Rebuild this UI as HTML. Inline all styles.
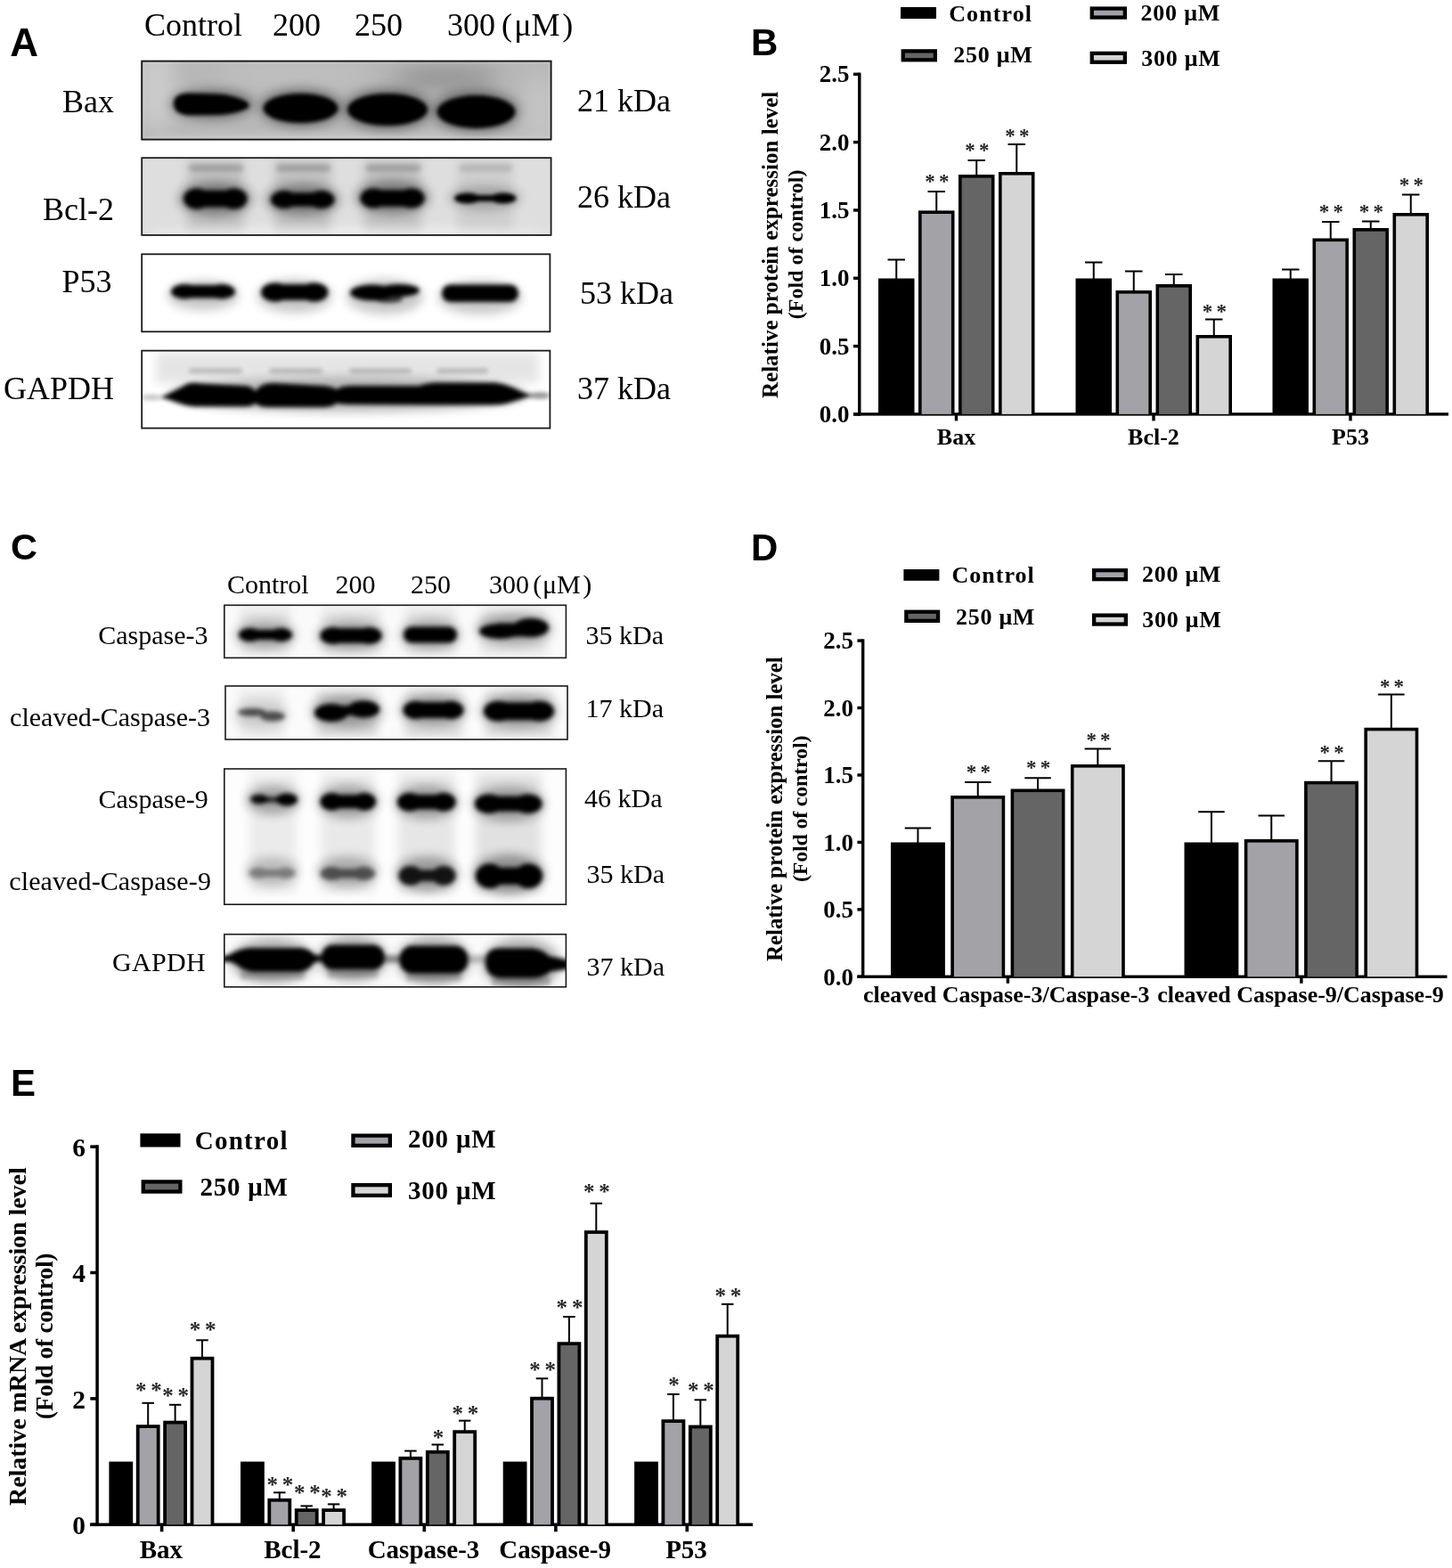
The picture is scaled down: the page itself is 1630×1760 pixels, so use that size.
<!DOCTYPE html>
<html lang="en">
<head>
<meta charset="utf-8">
<title>Figure</title>
<style>
html,body{margin:0;padding:0;background:#fff;}
body{width:1630px;height:1760px;overflow:hidden;}
svg{display:block;}
text{font-family:"Liberation Serif", "DejaVu Serif", serif;}
.s{font-family:"Liberation Serif", "DejaVu Serif", serif;font-weight:normal;}
.b{font-family:"Liberation Serif", "DejaVu Serif", serif;font-weight:bold;}
.p{font-family:"Liberation Sans", "DejaVu Sans", sans-serif;font-weight:bold;}
</style>
</head>
<body>
<svg width="1630" height="1760" viewBox="0 0 1630 1760">
<defs>
<filter id="b1" x="-30%" y="-80%" width="160%" height="260%"><feGaussianBlur stdDeviation="1.2"/></filter>
<filter id="b2" x="-30%" y="-80%" width="160%" height="260%"><feGaussianBlur stdDeviation="2.2"/></filter>
<filter id="b3" x="-30%" y="-80%" width="160%" height="260%"><feGaussianBlur stdDeviation="2.6"/></filter>
<filter id="b5" x="-30%" y="-100%" width="160%" height="300%"><feGaussianBlur stdDeviation="6"/></filter>
<filter id="b9" x="-40%" y="-100%" width="180%" height="300%"><feGaussianBlur stdDeviation="12"/></filter>
<filter id="tb" x="-5%" y="-20%" width="110%" height="140%"><feGaussianBlur stdDeviation="0.45"/></filter>
<clipPath id="cA1"><rect x="159.2" y="68.6" width="459.40000000000003" height="88.0"/></clipPath>
<clipPath id="cA2"><rect x="159.2" y="177.2" width="459.40000000000003" height="86.69999999999999"/></clipPath>
<clipPath id="cA3"><rect x="159.2" y="285.3" width="458.2" height="87.0"/></clipPath>
<clipPath id="cA4"><rect x="159.2" y="393.6" width="458.2" height="87.0"/></clipPath>
<clipPath id="cC1"><rect x="251.8" y="679.3" width="383.59999999999997" height="59.10000000000002"/></clipPath>
<clipPath id="cC2"><rect x="253" y="770" width="384" height="60"/></clipPath>
<clipPath id="cC3"><rect x="251.8" y="863" width="383.59999999999997" height="152.20000000000005"/></clipPath>
<clipPath id="cC4"><rect x="251.8" y="1048.7" width="383.59999999999997" height="59.09999999999991"/></clipPath>
</defs>
<rect width="1630" height="1760" fill="#fff"/>
<text class="p" x="11.2" y="62.6" font-size="44">A</text>
<text class="p" x="843" y="62" font-size="42">B</text>
<text class="p" x="12" y="628.4" font-size="41.5">C</text>
<text class="p" x="843" y="629" font-size="42">D</text>
<text class="p" x="12" y="1230" font-size="42">E</text>
<g filter="url(#tb)">
<text class="s" x="162" y="40.2" font-size="36">Control</text>
<text class="s" x="306" y="40.2" font-size="36">200</text>
<text class="s" x="398" y="40.2" font-size="36">250</text>
<text class="s" x="502" y="40.2" font-size="36">300</text>
<text class="s" x="563" y="40.2" font-size="36">(<tspan dx="2.2">μM</tspan><tspan dx="2.8">)</tspan></text>
<text class="s" x="128" y="125.6" font-size="36" text-anchor="end">Bax</text>
<text class="s" x="128" y="246.5" font-size="36" text-anchor="end">Bcl-2</text>
<text class="s" x="125.5" y="327.8" font-size="36" text-anchor="end">P53</text>
<text class="s" x="128" y="448" font-size="36" text-anchor="end">GAPDH</text>
<text class="s" x="648" y="125" font-size="36">21 kDa</text>
<text class="s" x="648" y="233" font-size="36">26 kDa</text>
<text class="s" x="651" y="341" font-size="36">53 kDa</text>
<text class="s" x="648" y="448" font-size="36">37 kDa</text>
</g>
<g clip-path="url(#cA1)">
<rect x="159.20" y="68.60" width="459.40" height="88.00" fill="#b7b7b7"/>
<ellipse cx="176.0" cy="100.0" rx="20.0" ry="50.0" fill="#fff" opacity="0.3" filter="url(#b9)"/>
<ellipse cx="606.0" cy="125.0" rx="16.0" ry="45.0" fill="#fff" opacity="0.22" filter="url(#b9)"/>
<ellipse cx="330.0" cy="84.0" rx="90.0" ry="12.0" fill="#fff" opacity="0.16" filter="url(#b9)"/>
<ellipse cx="500.0" cy="88.0" rx="60.0" ry="12.0" fill="#000" opacity="0.22" filter="url(#b9)"/>
<ellipse cx="390.0" cy="157.0" rx="230.0" ry="6.0" fill="#fff" opacity="0.3" filter="url(#b5)"/>
<ellipse cx="238.0" cy="117.0" rx="47.0" ry="17.0" fill="#000" opacity="0.36" filter="url(#b5)"/>
<ellipse cx="338.0" cy="121.0" rx="47.0" ry="22.0" fill="#000" opacity="0.36" filter="url(#b5)"/>
<ellipse cx="435.0" cy="123.0" rx="50.0" ry="24.0" fill="#000" opacity="0.36" filter="url(#b5)"/>
<ellipse cx="534.0" cy="125.0" rx="49.0" ry="24.0" fill="#000" opacity="0.36" filter="url(#b5)"/>
<g filter="url(#b2)"><path d="M195,116 Q195,105 212,104.5 L245,105.5 Q266,107 278,115 Q281,118.5 278,121.5 Q266,128 245,129 L212,129.5 Q195,128 195,116 Z"/></g>
<ellipse cx="337.5" cy="121.5" rx="42.0" ry="16.5" fill="#000" filter="url(#b2)"/>
<ellipse cx="435.0" cy="123.0" rx="45.0" ry="18.0" fill="#000" filter="url(#b2)"/>
<ellipse cx="534.5" cy="125.5" rx="44.0" ry="18.5" fill="#000" filter="url(#b2)"/>
</g><g>
<rect x="160.79999999999998" y="70.19999999999999" width="456.20000000000005" height="84.8" fill="none" stroke="#fff" stroke-opacity="0.35" stroke-width="1.2" filter="url(#b1)"/>
</g>
<rect x="159.2" y="68.6" width="459.40000000000003" height="88.0" fill="none" stroke="#151515" stroke-width="1.9"/>
<g clip-path="url(#cA2)">
<rect x="159.20" y="177.20" width="459.40" height="86.70" fill="#dedede"/>
<ellipse cx="390.0" cy="262.0" rx="230.0" ry="7.0" fill="#fff" opacity="0.5" filter="url(#b5)"/>
<rect x="210.0" y="180" width="63.5" height="78" fill="#000" opacity="0.12" filter="url(#b5)"/>
<ellipse cx="241.8" cy="223.0" rx="41.8" ry="19.5" fill="#000" opacity="0.35" filter="url(#b5)"/>
<rect x="212.0" y="184.0" width="61.5" height="9.0" rx="4.5" ry="4.5" fill="#000" opacity="0.16" filter="url(#b3)"/>
<rect x="308.0" y="180" width="63.5" height="78" fill="#000" opacity="0.12" filter="url(#b5)"/>
<ellipse cx="339.8" cy="224.0" rx="41.8" ry="18.0" fill="#000" opacity="0.35" filter="url(#b5)"/>
<rect x="310.0" y="184.0" width="61.5" height="9.0" rx="4.5" ry="4.5" fill="#000" opacity="0.16" filter="url(#b3)"/>
<rect x="408.5" y="180" width="64.1" height="78" fill="#000" opacity="0.12" filter="url(#b5)"/>
<ellipse cx="440.6" cy="221.2" rx="42.1" ry="19.2" fill="#000" opacity="0.35" filter="url(#b5)"/>
<rect x="410.5" y="184.0" width="62.1" height="9.0" rx="4.5" ry="4.5" fill="#000" opacity="0.16" filter="url(#b3)"/>
<rect x="513.6" y="180" width="61.8" height="78" fill="#000" opacity="0.07" filter="url(#b5)"/>
<ellipse cx="544.5" cy="222.0" rx="40.9" ry="13.0" fill="#000" opacity="0.22" filter="url(#b5)"/>
<rect x="515.6" y="184.0" width="59.8" height="9.0" rx="4.5" ry="4.5" fill="#000" opacity="0.1" filter="url(#b3)"/>
<g filter="url(#b3)">
<ellipse cx="221.0" cy="223.0" rx="15.0" ry="11.5"/>
<ellipse cx="262.5" cy="223.0" rx="15.0" ry="11.5"/>
<rect x="221.0" y="213.6" width="41.5" height="18.9"/>
</g>
<g filter="url(#b3)">
<ellipse cx="319.0" cy="224.0" rx="15.0" ry="10.0"/>
<ellipse cx="360.5" cy="224.0" rx="15.0" ry="10.0"/>
<rect x="319.0" y="216.2" width="41.5" height="15.6"/>
</g>
<g filter="url(#b3)">
<ellipse cx="419.6" cy="222.5" rx="15.1" ry="11.0"/>
<ellipse cx="461.5" cy="222.5" rx="15.1" ry="11.0"/>
<rect x="419.6" y="213.2" width="41.8" height="18.7"/>
</g>
<g filter="url(#b2)">
<ellipse cx="524.6" cy="222.5" rx="14.6" ry="6.0"/>
<ellipse cx="564.9" cy="222.5" rx="14.6" ry="6.0"/>
<rect x="524.6" y="219.0" width="40.3" height="7.0"/>
</g>
</g>
<rect x="159.2" y="177.2" width="459.40000000000003" height="86.69999999999999" fill="none" stroke="#1a1a1a" stroke-width="1.8"/>
<g clip-path="url(#cA3)">
<rect x="159.20" y="285.30" width="458.20" height="87.00" fill="#fff"/>
<ellipse cx="228.0" cy="331.5" rx="40.0" ry="16.5" fill="#000" opacity="0.22" filter="url(#b5)"/>
<ellipse cx="330.8" cy="332.2" rx="41.8" ry="18.8" fill="#000" opacity="0.22" filter="url(#b5)"/>
<ellipse cx="432.0" cy="333.0" rx="43.0" ry="19.5" fill="#000" opacity="0.22" filter="url(#b5)"/>
<ellipse cx="539.0" cy="333.8" rx="47.0" ry="18.8" fill="#000" opacity="0.22" filter="url(#b5)"/>
<g filter="url(#b3)">
<ellipse cx="207.1" cy="327.2" rx="15.1" ry="8.2"/>
<ellipse cx="248.9" cy="327.2" rx="15.1" ry="8.2"/>
<rect x="207.1" y="320.0" width="41.8" height="14.5"/>
</g>
<g filter="url(#b3)">
<ellipse cx="308.9" cy="328.0" rx="15.9" ry="10.5"/>
<ellipse cx="352.6" cy="328.0" rx="15.9" ry="10.5"/>
<rect x="308.9" y="319.1" width="43.8" height="17.8"/>
</g>
<g filter="url(#b3)"><ellipse cx="418" cy="328.5" rx="25" ry="9"/><ellipse cx="448" cy="326" rx="23" ry="7"/><ellipse cx="436" cy="335.5" rx="16" ry="4.5" opacity="0.7"/></g>
<rect x="496.0" y="319.5" width="86.0" height="19.5" rx="9.8" ry="9.8" fill="#000" filter="url(#b3)"/>
</g>
<rect x="159.2" y="285.3" width="458.2" height="87.0" fill="none" stroke="#1a1a1a" stroke-width="1.8"/>
<g clip-path="url(#cA4)">
<rect x="159.20" y="393.60" width="458.20" height="87.00" fill="#fff"/>
<rect x="175" y="396" width="430" height="34" fill="#000" opacity="0.10" filter="url(#b5)"/>
<rect x="212.0" y="413.5" width="60.0" height="5.5" rx="2.8" ry="2.8" fill="#000" opacity="0.2" filter="url(#b3)"/>
<rect x="302.0" y="413.5" width="60.0" height="5.5" rx="2.8" ry="2.8" fill="#000" opacity="0.2" filter="url(#b3)"/>
<rect x="392.0" y="413.5" width="70.0" height="5.5" rx="2.8" ry="2.8" fill="#000" opacity="0.2" filter="url(#b3)"/>
<rect x="490.0" y="413.5" width="58.0" height="5.5" rx="2.8" ry="2.8" fill="#000" opacity="0.2" filter="url(#b3)"/>
<ellipse cx="390.0" cy="443.0" rx="200.0" ry="19.0" fill="#000" opacity="0.28" filter="url(#b5)"/>
<g filter="url(#b3)">
<path d="M180,446 Q198,438 210,431 Q216,429 226,430.5 L276,433 Q284,434 287,439.5 Q290,433 298,431 Q306,429.5 316,430.5 L364,433 Q374,434 378,437 Q382,433.5 392,433 L470,433 Q478,430 488,429.5 L556,429.5 Q566,430.5 576,435 Q588,441 598,444 Q585,448 572,452 Q564,454.5 552,454.5 L480,454.5 L392,454 Q382,453.5 378,452.5 Q374,456.5 364,457 L300,457 Q290,456.5 287,452.5 Q284,456 274,456.3 L218,456.3 Q208,455.5 198,451.5 Q190,448.5 180,446 Z"/>
</g>
<ellipse cx="606.0" cy="444.0" rx="12.0" ry="3.5" fill="#000" opacity="0.45" filter="url(#b3)"/>
<ellipse cx="170.0" cy="446.0" rx="12.0" ry="3.0" fill="#000" opacity="0.25" filter="url(#b3)"/>
</g>
<rect x="159.2" y="393.6" width="458.2" height="87.0" fill="none" stroke="#1a1a1a" stroke-width="1.8"/>
<g filter="url(#tb)">
<rect x="1011.00" y="8.00" width="40.00" height="13.00" fill="#000"/>
<text class="b" x="1065.2" y="23.5" font-size="26" letter-spacing="1.102">Control</text>
<rect x="1223.60" y="7.40" width="41.40" height="14.30" fill="#000"/>
<rect x="1227.90" y="11.70" width="32.80" height="5.70" fill="#a2a2a7"/>
<text class="b" x="1280.6" y="22.6" font-size="26" letter-spacing="0.764">200 μM</text>
<rect x="1011.60" y="55.20" width="40.40" height="14.20" fill="#000"/>
<rect x="1015.90" y="59.50" width="31.80" height="5.60" fill="#656565"/>
<text class="b" x="1070.3" y="70.2" font-size="26" letter-spacing="0.764">250 μM</text>
<rect x="1223.60" y="57.70" width="41.40" height="14.20" fill="#000"/>
<rect x="1227.90" y="62.00" width="32.80" height="5.60" fill="#d5d5d5"/>
<text class="b" x="1281.2" y="74.1" font-size="26" letter-spacing="0.764">300 μM</text>
<rect x="963.10" y="81.60" width="3.40" height="385.00" fill="#000"/>
<rect x="958.00" y="463.20" width="668.00" height="3.40" fill="#000"/>
<rect x="958.00" y="463.20" width="6.80" height="3.40" fill="#000"/>
<text class="b" x="953.6" y="474.0" font-size="27" text-anchor="end">0.0</text>
<rect x="958.00" y="386.88" width="6.80" height="3.40" fill="#000"/>
<text class="b" x="953.6" y="397.7" font-size="27" text-anchor="end">0.5</text>
<rect x="958.00" y="310.56" width="6.80" height="3.40" fill="#000"/>
<text class="b" x="953.6" y="321.4" font-size="27" text-anchor="end">1.0</text>
<rect x="958.00" y="234.24" width="6.80" height="3.40" fill="#000"/>
<text class="b" x="953.6" y="245.0" font-size="27" text-anchor="end">1.5</text>
<rect x="958.00" y="157.92" width="6.80" height="3.40" fill="#000"/>
<text class="b" x="953.6" y="168.7" font-size="27" text-anchor="end">2.0</text>
<rect x="958.00" y="81.60" width="6.80" height="3.40" fill="#000"/>
<text class="b" x="953.6" y="92.4" font-size="27" text-anchor="end">2.5</text>
<text class="b" font-size="25" text-anchor="middle" letter-spacing="0.004" transform="translate(873 274.85) rotate(-90)">Relative protein expression level</text>
<text class="b" font-size="24" text-anchor="middle" letter-spacing="0.01" transform="translate(900.6 274.35) rotate(-90)">(Fold of control)</text>
<line x1="1006.25" y1="291.50" x2="1006.25" y2="313.50" stroke="#000" stroke-width="2"/>
<line x1="996.50" y1="291.50" x2="1016.00" y2="291.50" stroke="#000" stroke-width="2"/>
<rect x="986.00" y="312.50" width="40.50" height="152.40" fill="#000"/>
<line x1="1051.25" y1="215.00" x2="1051.25" y2="237.40" stroke="#000" stroke-width="2"/>
<line x1="1041.50" y1="215.00" x2="1061.00" y2="215.00" stroke="#000" stroke-width="2"/>
<rect x="1031.00" y="236.40" width="40.50" height="228.50" fill="#000"/>
<rect x="1034.60" y="240.00" width="33.30" height="224.90" fill="#a2a2a7"/>
<text class="b" x="1044.05" y="211.2" font-size="23" text-anchor="middle" fill="#262626">*</text>
<text class="b" x="1059.65" y="211.2" font-size="23" text-anchor="middle" fill="#262626">*</text>
<line x1="1096.25" y1="180.00" x2="1096.25" y2="197.00" stroke="#000" stroke-width="2"/>
<line x1="1086.50" y1="180.00" x2="1106.00" y2="180.00" stroke="#000" stroke-width="2"/>
<rect x="1076.00" y="196.00" width="40.50" height="268.90" fill="#000"/>
<rect x="1079.60" y="199.60" width="33.30" height="265.30" fill="#656565"/>
<text class="b" x="1089.05" y="175.6" font-size="23" text-anchor="middle" fill="#262626">*</text>
<text class="b" x="1104.65" y="175.6" font-size="23" text-anchor="middle" fill="#262626">*</text>
<line x1="1141.25" y1="162.00" x2="1141.25" y2="194.00" stroke="#000" stroke-width="2"/>
<line x1="1131.50" y1="162.00" x2="1151.00" y2="162.00" stroke="#000" stroke-width="2"/>
<rect x="1121.00" y="193.00" width="40.50" height="271.90" fill="#000"/>
<rect x="1124.60" y="196.60" width="33.30" height="268.30" fill="#d5d5d5"/>
<text class="b" x="1134.05" y="159.8" font-size="23" text-anchor="middle" fill="#262626">*</text>
<text class="b" x="1149.65" y="159.8" font-size="23" text-anchor="middle" fill="#262626">*</text>
<rect x="1071.80" y="464.90" width="3.40" height="7.50" fill="#000"/>
<text class="b" x="1073.5" y="499" font-size="26" text-anchor="middle">Bax</text>
<line x1="1227.75" y1="294.50" x2="1227.75" y2="313.50" stroke="#000" stroke-width="2"/>
<line x1="1218.00" y1="294.50" x2="1237.50" y2="294.50" stroke="#000" stroke-width="2"/>
<rect x="1207.50" y="312.50" width="40.50" height="152.40" fill="#000"/>
<line x1="1272.75" y1="304.50" x2="1272.75" y2="327.00" stroke="#000" stroke-width="2"/>
<line x1="1263.00" y1="304.50" x2="1282.50" y2="304.50" stroke="#000" stroke-width="2"/>
<rect x="1252.50" y="326.00" width="40.50" height="138.90" fill="#000"/>
<rect x="1256.10" y="329.60" width="33.30" height="135.30" fill="#a2a2a7"/>
<line x1="1317.75" y1="308.00" x2="1317.75" y2="320.00" stroke="#000" stroke-width="2"/>
<line x1="1308.00" y1="308.00" x2="1327.50" y2="308.00" stroke="#000" stroke-width="2"/>
<rect x="1297.50" y="319.00" width="40.50" height="145.90" fill="#000"/>
<rect x="1301.10" y="322.60" width="33.30" height="142.30" fill="#656565"/>
<line x1="1362.75" y1="358.50" x2="1362.75" y2="377.00" stroke="#000" stroke-width="2"/>
<line x1="1353.00" y1="358.50" x2="1372.50" y2="358.50" stroke="#000" stroke-width="2"/>
<rect x="1342.50" y="376.00" width="40.50" height="88.90" fill="#000"/>
<rect x="1346.10" y="379.60" width="33.30" height="85.30" fill="#d5d5d5"/>
<text class="b" x="1355.55" y="356.7" font-size="23" text-anchor="middle" fill="#262626">*</text>
<text class="b" x="1371.15" y="356.7" font-size="23" text-anchor="middle" fill="#262626">*</text>
<rect x="1293.30" y="464.90" width="3.40" height="7.50" fill="#000"/>
<text class="b" x="1295.0" y="499" font-size="26" text-anchor="middle">Bcl-2</text>
<line x1="1448.75" y1="302.50" x2="1448.75" y2="313.50" stroke="#000" stroke-width="2"/>
<line x1="1439.00" y1="302.50" x2="1458.50" y2="302.50" stroke="#000" stroke-width="2"/>
<rect x="1428.50" y="312.50" width="40.50" height="152.40" fill="#000"/>
<line x1="1493.75" y1="249.00" x2="1493.75" y2="268.50" stroke="#000" stroke-width="2"/>
<line x1="1484.00" y1="249.00" x2="1503.50" y2="249.00" stroke="#000" stroke-width="2"/>
<rect x="1473.50" y="267.50" width="40.50" height="197.40" fill="#000"/>
<rect x="1477.10" y="271.10" width="33.30" height="193.80" fill="#a2a2a7"/>
<text class="b" x="1486.55" y="245.2" font-size="23" text-anchor="middle" fill="#262626">*</text>
<text class="b" x="1502.15" y="245.2" font-size="23" text-anchor="middle" fill="#262626">*</text>
<line x1="1538.75" y1="248.50" x2="1538.75" y2="257.00" stroke="#000" stroke-width="2"/>
<line x1="1529.00" y1="248.50" x2="1548.50" y2="248.50" stroke="#000" stroke-width="2"/>
<rect x="1518.50" y="256.00" width="40.50" height="208.90" fill="#000"/>
<rect x="1522.10" y="259.60" width="33.30" height="205.30" fill="#656565"/>
<text class="b" x="1531.55" y="245.2" font-size="23" text-anchor="middle" fill="#262626">*</text>
<text class="b" x="1547.15" y="245.2" font-size="23" text-anchor="middle" fill="#262626">*</text>
<line x1="1583.75" y1="218.50" x2="1583.75" y2="240.00" stroke="#000" stroke-width="2"/>
<line x1="1574.00" y1="218.50" x2="1593.50" y2="218.50" stroke="#000" stroke-width="2"/>
<rect x="1563.50" y="239.00" width="40.50" height="225.90" fill="#000"/>
<rect x="1567.10" y="242.60" width="33.30" height="222.30" fill="#d5d5d5"/>
<text class="b" x="1576.55" y="215.2" font-size="23" text-anchor="middle" fill="#262626">*</text>
<text class="b" x="1592.15" y="215.2" font-size="23" text-anchor="middle" fill="#262626">*</text>
<rect x="1514.30" y="464.90" width="3.40" height="7.50" fill="#000"/>
<text class="b" x="1516.0" y="499" font-size="26" text-anchor="middle">P53</text>
</g>
<g filter="url(#tb)">
<text class="s" x="255" y="665.8" font-size="30">Control</text>
<text class="s" x="376.5" y="665.8" font-size="30">200</text>
<text class="s" x="461" y="665.8" font-size="30">250</text>
<text class="s" x="549" y="665.8" font-size="30">300</text>
<text class="s" x="598.3" y="665.8" font-size="30">(<tspan dx="0.6">μM</tspan><tspan dx="2.6">)</tspan></text>
<text class="s" x="233.5" y="723" font-size="30" text-anchor="end">Caspase-3</text>
<text class="s" x="236" y="815.4" font-size="30" text-anchor="end">cleaved-Caspase-3</text>
<text class="s" x="233.8" y="906.6" font-size="30" text-anchor="end">Caspase-9</text>
<text class="s" x="10.3" y="998.5" font-size="30" letter-spacing="0.107">cleaved-Caspase-9</text>
<text class="s" x="126" y="1090" font-size="30" letter-spacing="0.314">GAPDH</text>
<text class="s" x="657.5" y="722.6" font-size="30">35 kDa</text>
<text class="s" x="657.6" y="805.2" font-size="30">17 kDa</text>
<text class="s" x="656" y="906.3" font-size="30">46 kDa</text>
<text class="s" x="658.5" y="991" font-size="30">35 kDa</text>
<text class="s" x="658.6" y="1094.5" font-size="30">37 kDa</text>
</g>
<g clip-path="url(#cC1)">
<rect x="251.80" y="679.30" width="383.60" height="59.10" fill="#fafafa"/>
<rect x="270.0" y="684" width="56.0" height="50" fill="#000" opacity="0.10" filter="url(#b5)"/>
<ellipse cx="298.0" cy="712.5" rx="34.0" ry="14.5" fill="#000" opacity="0.28" filter="url(#b5)"/>
<rect x="361.5" y="684" width="65.1" height="50" fill="#000" opacity="0.10" filter="url(#b5)"/>
<ellipse cx="394.1" cy="713.5" rx="38.6" ry="16.5" fill="#000" opacity="0.28" filter="url(#b5)"/>
<rect x="455.0" y="684" width="56.0" height="50" fill="#000" opacity="0.10" filter="url(#b5)"/>
<ellipse cx="483.0" cy="712.5" rx="34.0" ry="16.0" fill="#000" opacity="0.28" filter="url(#b5)"/>
<rect x="540.0" y="684" width="74.0" height="50" fill="#000" opacity="0.10" filter="url(#b5)"/>
<ellipse cx="577.0" cy="706.0" rx="43.0" ry="17.0" fill="#000" opacity="0.28" filter="url(#b5)"/>
<g filter="url(#b3)">
<ellipse cx="280.6" cy="712.5" rx="12.6" ry="7.5"/>
<ellipse cx="315.4" cy="712.5" rx="12.6" ry="7.5"/>
<rect x="280.6" y="706.9" width="34.8" height="11.2"/>
</g>
<g filter="url(#b3)">
<ellipse cx="374.0" cy="713.5" rx="14.5" ry="9.5"/>
<ellipse cx="414.1" cy="713.5" rx="14.5" ry="9.5"/>
<rect x="374.0" y="705.1" width="40.1" height="16.7"/>
</g>
<rect x="453.0" y="703.5" width="60.0" height="18.0" rx="9.0" ry="9.0" fill="#000" filter="url(#b3)"/>
<g filter="url(#b3)"><ellipse cx="596" cy="704.5" rx="20" ry="10.5"/><ellipse cx="561" cy="708.5" rx="23" ry="8.5"/><rect x="558" y="699.5" width="40" height="15"/></g>
</g>
<rect x="251.8" y="679.3" width="383.59999999999997" height="59.10000000000002" fill="none" stroke="#1a1a1a" stroke-width="1.6"/>
<g clip-path="url(#cC2)">
<rect x="253.00" y="770.00" width="384.00" height="60.00" fill="#fbfbfb"/>
<rect x="268.0" y="775" width="51.0" height="52" fill="#000" opacity="0.08" filter="url(#b5)"/>
<ellipse cx="293.5" cy="802.0" rx="31.5" ry="14.0" fill="#000" opacity="0.12" filter="url(#b5)"/>
<rect x="355.0" y="775" width="69.0" height="52" fill="#000" opacity="0.14" filter="url(#b5)"/>
<ellipse cx="389.5" cy="798.8" rx="40.5" ry="17.8" fill="#000" opacity="0.28" filter="url(#b5)"/>
<rect x="454.5" y="775" width="63.9" height="52" fill="#000" opacity="0.14" filter="url(#b5)"/>
<ellipse cx="486.4" cy="797.0" rx="37.9" ry="17.0" fill="#000" opacity="0.28" filter="url(#b5)"/>
<rect x="545.0" y="775" width="75.0" height="52" fill="#000" opacity="0.14" filter="url(#b5)"/>
<ellipse cx="582.5" cy="798.3" rx="43.5" ry="18.3" fill="#000" opacity="0.28" filter="url(#b5)"/>
<g filter="url(#b3)" opacity="0.62"><ellipse cx="283" cy="799.5" rx="16" ry="4.5"/><ellipse cx="306" cy="804" rx="14" ry="5.5"/></g>
<g filter="url(#b3)"><ellipse cx="372" cy="800" rx="19" ry="10"/><ellipse cx="408" cy="796" rx="18" ry="9.5"/><rect x="372" y="792" width="36" height="11"/></g>
<g filter="url(#b3)">
<ellipse cx="466.8" cy="797.0" rx="14.3" ry="10.0"/>
<ellipse cx="506.1" cy="797.0" rx="14.3" ry="10.0"/>
<rect x="466.8" y="788.0" width="39.4" height="18.0"/>
</g>
<g filter="url(#b3)">
<ellipse cx="559.6" cy="798.3" rx="16.6" ry="11.3"/>
<ellipse cx="605.4" cy="798.3" rx="16.6" ry="11.3"/>
<rect x="559.6" y="788.4" width="45.8" height="19.9"/>
</g>
</g>
<rect x="253" y="770" width="384" height="60" fill="none" stroke="#1a1a1a" stroke-width="1.6"/>
<g clip-path="url(#cC3)">
<rect x="251.80" y="863.00" width="383.60" height="152.20" fill="#fdfdfd"/>
<rect x="280.0" y="868" width="53.0" height="134" fill="#000" opacity="0.07" filter="url(#b5)"/>
<ellipse cx="306.5" cy="898.0" rx="30.5" ry="16.0" fill="#000" opacity="0.3" filter="url(#b5)"/>
<rect x="360.5" y="868" width="60.5" height="134" fill="#000" opacity="0.08" filter="url(#b5)"/>
<ellipse cx="390.8" cy="899.8" rx="34.2" ry="18.8" fill="#000" opacity="0.3" filter="url(#b5)"/>
<rect x="447.0" y="868" width="63.6" height="134" fill="#000" opacity="0.09" filter="url(#b5)"/>
<ellipse cx="478.8" cy="900.2" rx="35.8" ry="19.2" fill="#000" opacity="0.3" filter="url(#b5)"/>
<rect x="534.0" y="868" width="73.5" height="134" fill="#000" opacity="0.11" filter="url(#b5)"/>
<ellipse cx="570.8" cy="902.2" rx="40.8" ry="19.8" fill="#000" opacity="0.3" filter="url(#b5)"/>
<ellipse cx="305.5" cy="978.0" rx="29.5" ry="16.0" fill="#000" opacity="0.2" filter="url(#b5)"/>
<ellipse cx="390.2" cy="978.5" rx="33.8" ry="17.5" fill="#000" opacity="0.26" filter="url(#b5)"/>
<ellipse cx="479.6" cy="981.0" rx="35.1" ry="20.0" fill="#000" opacity="0.32" filter="url(#b5)"/>
<ellipse cx="571.2" cy="981.5" rx="40.2" ry="22.5" fill="#000" opacity="0.36" filter="url(#b5)"/>
<g filter="url(#b3)"><ellipse cx="291" cy="897" rx="10" ry="5.5" opacity="0.9"/><ellipse cx="322" cy="897.5" rx="12" ry="7"/><rect x="290" y="894" width="32" height="7" opacity="0.7"/></g>
<g filter="url(#b3)">
<ellipse cx="372.6" cy="899.8" rx="13.1" ry="9.8"/>
<ellipse cx="408.9" cy="899.8" rx="13.1" ry="9.8"/>
<rect x="372.6" y="892.1" width="36.2" height="15.2"/>
</g>
<g filter="url(#b3)">
<ellipse cx="459.8" cy="900.2" rx="13.8" ry="10.2"/>
<ellipse cx="497.8" cy="900.2" rx="13.8" ry="10.2"/>
<rect x="459.8" y="892.0" width="38.0" height="16.4"/>
</g>
<g filter="url(#b3)">
<ellipse cx="548.9" cy="902.2" rx="15.9" ry="10.8"/>
<ellipse cx="592.6" cy="902.2" rx="15.9" ry="10.8"/>
<rect x="548.9" y="893.6" width="43.8" height="17.2"/>
</g>
<g filter="url(#b3)" opacity="0.34">
<ellipse cx="290.1" cy="980.0" rx="11.1" ry="6.0"/>
<ellipse cx="320.9" cy="980.0" rx="11.1" ry="6.0"/>
<rect x="290.1" y="975.8" width="30.7" height="8.4"/>
</g>
<g filter="url(#b3)" opacity="0.55">
<ellipse cx="372.4" cy="980.5" rx="12.9" ry="7.5"/>
<ellipse cx="408.1" cy="980.5" rx="12.9" ry="7.5"/>
<rect x="372.4" y="975.2" width="35.7" height="10.5"/>
</g>
<g filter="url(#b3)" opacity="0.88">
<ellipse cx="461.0" cy="982.8" rx="13.5" ry="10.8"/>
<ellipse cx="498.1" cy="982.8" rx="13.5" ry="10.8"/>
<rect x="461.0" y="976.3" width="37.2" height="12.9"/>
</g>
<g filter="url(#b3)">
<ellipse cx="549.8" cy="983.2" rx="15.8" ry="13.8"/>
<ellipse cx="593.2" cy="983.2" rx="15.8" ry="13.8"/>
<rect x="549.8" y="973.6" width="43.5" height="19.2"/>
</g>
</g>
<rect x="251.8" y="863" width="383.59999999999997" height="152.20000000000005" fill="none" stroke="#1a1a1a" stroke-width="1.6"/>
<g clip-path="url(#cC4)">
<rect x="251.80" y="1048.70" width="383.60" height="59.10" fill="#fbfbfb"/>
<ellipse cx="306.0" cy="1078.5" rx="47.0" ry="25.5" fill="#000" opacity="0.3" filter="url(#b5)"/>
<rect x="270.0" y="1089.0" width="72.0" height="10" fill="#000" opacity="0.22" filter="url(#b3)"/>
<ellipse cx="396.0" cy="1076.0" rx="39.0" ry="26.0" fill="#000" opacity="0.3" filter="url(#b5)"/>
<rect x="368.0" y="1087.0" width="56.0" height="10" fill="#000" opacity="0.22" filter="url(#b3)"/>
<ellipse cx="487.0" cy="1078.5" rx="42.0" ry="27.5" fill="#000" opacity="0.3" filter="url(#b5)"/>
<rect x="456.0" y="1091.0" width="62.0" height="10" fill="#000" opacity="0.22" filter="url(#b3)"/>
<ellipse cx="585.0" cy="1082.0" rx="44.0" ry="29.0" fill="#000" opacity="0.3" filter="url(#b5)"/>
<rect x="552.0" y="1096.0" width="66.0" height="10" fill="#000" opacity="0.22" filter="url(#b3)"/>
<g filter="url(#b3)">
<path d="M248,1074 L258,1071.5 Q266,1065.5 280,1064 L338,1064 Q348,1065.5 353,1071.5 L358,1075.5 L353,1080.5 Q346,1089.5 336,1091 L284,1091 Q272,1089.5 266,1083 L258,1079.5 L248,1080 Z"/>
<rect x="361" y="1060.5" width="70.5" height="28" rx="13"/>
<rect x="448.7" y="1061.5" width="76.5" height="31.5" rx="14.5"/>
<path d="M545,1080 Q545,1065 560,1064.3 L598,1064.3 Q610,1066 616,1073 L640,1078 L640,1087.5 L618,1090.5 Q610,1098 598,1098 L562,1098 Q545,1096.5 545,1080 Z"/>
<rect x="352" y="1071.5" width="11" height="8.5" opacity="0.85"/>
<rect x="430" y="1072" width="20" height="9" opacity="0.4"/>
<rect x="524" y="1072" width="22" height="9" opacity="0.22"/>
</g>
</g>
<rect x="251.8" y="1048.7" width="383.59999999999997" height="59.09999999999991" fill="none" stroke="#1a1a1a" stroke-width="1.6"/>
<g filter="url(#tb)">
<rect x="1014.40" y="639.00" width="40.00" height="12.80" fill="#000"/>
<text class="b" x="1068.5" y="653.5" font-size="26" letter-spacing="1.019">Control</text>
<rect x="1226.00" y="638.00" width="40.00" height="14.30" fill="#000"/>
<rect x="1230.30" y="642.30" width="31.40" height="5.70" fill="#a2a2a7"/>
<text class="b" x="1282" y="653" font-size="26" letter-spacing="0.724">200 μM</text>
<rect x="1015.20" y="684.60" width="40.00" height="14.40" fill="#000"/>
<rect x="1019.50" y="688.90" width="31.40" height="5.80" fill="#656565"/>
<text class="b" x="1073" y="700.6" font-size="26" letter-spacing="0.724">250 μM</text>
<rect x="1226.00" y="688.50" width="40.00" height="14.20" fill="#000"/>
<rect x="1230.30" y="692.80" width="31.40" height="5.60" fill="#d5d5d5"/>
<text class="b" x="1282.3" y="704" font-size="26" letter-spacing="0.724">300 μM</text>
<rect x="967.00" y="717.40" width="3.40" height="380.60" fill="#000"/>
<rect x="962.40" y="1094.60" width="662.10" height="3.40" fill="#000"/>
<rect x="962.40" y="1094.60" width="6.30" height="3.40" fill="#000"/>
<text class="b" x="958.0" y="1105.5" font-size="27" text-anchor="end">0.0</text>
<rect x="962.40" y="1019.16" width="6.30" height="3.40" fill="#000"/>
<text class="b" x="958.0" y="1030.1" font-size="27" text-anchor="end">0.5</text>
<rect x="962.40" y="943.72" width="6.30" height="3.40" fill="#000"/>
<text class="b" x="958.0" y="954.6" font-size="27" text-anchor="end">1.0</text>
<rect x="962.40" y="868.28" width="6.30" height="3.40" fill="#000"/>
<text class="b" x="958.0" y="879.2" font-size="27" text-anchor="end">1.5</text>
<rect x="962.40" y="792.84" width="6.30" height="3.40" fill="#000"/>
<text class="b" x="958.0" y="803.7" font-size="27" text-anchor="end">2.0</text>
<rect x="962.40" y="717.40" width="6.30" height="3.40" fill="#000"/>
<text class="b" x="958.0" y="728.3" font-size="27" text-anchor="end">2.5</text>
<text class="b" font-size="25" text-anchor="middle" letter-spacing="-0.08" transform="translate(877.5 908.14) rotate(-90)">Relative protein expression level</text>
<text class="b" font-size="24" text-anchor="middle" letter-spacing="-0.19" transform="translate(906 907.95) rotate(-90)">(Fold of control)</text>
<line x1="1030.45" y1="929.50" x2="1030.45" y2="946.50" stroke="#000" stroke-width="2"/>
<line x1="1015.70" y1="929.50" x2="1045.20" y2="929.50" stroke="#000" stroke-width="2"/>
<rect x="1000.00" y="945.50" width="60.90" height="150.80" fill="#000"/>
<line x1="1097.75" y1="878.00" x2="1097.75" y2="894.00" stroke="#000" stroke-width="2"/>
<line x1="1083.00" y1="878.00" x2="1112.50" y2="878.00" stroke="#000" stroke-width="2"/>
<rect x="1067.30" y="893.00" width="60.90" height="203.30" fill="#000"/>
<rect x="1070.90" y="896.60" width="53.70" height="199.70" fill="#a2a2a7"/>
<text class="b" x="1090.55" y="874.0" font-size="23" text-anchor="middle" fill="#262626">*</text>
<text class="b" x="1106.15" y="874.0" font-size="23" text-anchor="middle" fill="#262626">*</text>
<line x1="1165.05" y1="873.25" x2="1165.05" y2="886.50" stroke="#000" stroke-width="2"/>
<line x1="1150.30" y1="873.25" x2="1179.80" y2="873.25" stroke="#000" stroke-width="2"/>
<rect x="1134.60" y="885.50" width="60.90" height="210.80" fill="#000"/>
<rect x="1138.20" y="889.10" width="53.70" height="207.20" fill="#656565"/>
<text class="b" x="1157.85" y="868.5" font-size="23" text-anchor="middle" fill="#262626">*</text>
<text class="b" x="1173.45" y="868.5" font-size="23" text-anchor="middle" fill="#262626">*</text>
<line x1="1232.35" y1="840.50" x2="1232.35" y2="859.00" stroke="#000" stroke-width="2"/>
<line x1="1217.60" y1="840.50" x2="1247.10" y2="840.50" stroke="#000" stroke-width="2"/>
<rect x="1201.90" y="858.00" width="60.90" height="238.30" fill="#000"/>
<rect x="1205.50" y="861.60" width="53.70" height="234.70" fill="#d5d5d5"/>
<text class="b" x="1225.15" y="838.2" font-size="23" text-anchor="middle" fill="#262626">*</text>
<text class="b" x="1240.75" y="838.2" font-size="23" text-anchor="middle" fill="#262626">*</text>
<rect x="1129.70" y="1096.30" width="3.40" height="7.50" fill="#000"/>
<text class="b" x="968.9" y="1125.4" font-size="26" letter-spacing="0.005">cleaved Caspase-3/Caspase-3</text>
<line x1="1359.95" y1="911.25" x2="1359.95" y2="946.50" stroke="#000" stroke-width="2"/>
<line x1="1345.20" y1="911.25" x2="1374.70" y2="911.25" stroke="#000" stroke-width="2"/>
<rect x="1329.50" y="945.50" width="60.90" height="150.80" fill="#000"/>
<line x1="1427.25" y1="915.50" x2="1427.25" y2="943.00" stroke="#000" stroke-width="2"/>
<line x1="1412.50" y1="915.50" x2="1442.00" y2="915.50" stroke="#000" stroke-width="2"/>
<rect x="1396.80" y="942.00" width="60.90" height="154.30" fill="#000"/>
<rect x="1400.40" y="945.60" width="53.70" height="150.70" fill="#a2a2a7"/>
<line x1="1494.55" y1="854.25" x2="1494.55" y2="877.75" stroke="#000" stroke-width="2"/>
<line x1="1479.80" y1="854.25" x2="1509.30" y2="854.25" stroke="#000" stroke-width="2"/>
<rect x="1464.10" y="876.75" width="60.90" height="219.55" fill="#000"/>
<rect x="1467.70" y="880.35" width="53.70" height="215.95" fill="#656565"/>
<text class="b" x="1487.35" y="852.2" font-size="23" text-anchor="middle" fill="#262626">*</text>
<text class="b" x="1502.95" y="852.2" font-size="23" text-anchor="middle" fill="#262626">*</text>
<line x1="1561.85" y1="779.50" x2="1561.85" y2="817.75" stroke="#000" stroke-width="2"/>
<line x1="1547.10" y1="779.50" x2="1576.60" y2="779.50" stroke="#000" stroke-width="2"/>
<rect x="1531.40" y="816.75" width="60.90" height="279.55" fill="#000"/>
<rect x="1535.00" y="820.35" width="53.70" height="275.95" fill="#d5d5d5"/>
<text class="b" x="1554.65" y="778.2" font-size="23" text-anchor="middle" fill="#262626">*</text>
<text class="b" x="1570.25" y="778.2" font-size="23" text-anchor="middle" fill="#262626">*</text>
<rect x="1459.20" y="1096.30" width="3.40" height="7.50" fill="#000"/>
<text class="b" x="1299.3" y="1125.4" font-size="26" letter-spacing="0.005">cleaved Caspase-9/Caspase-9</text>
</g>
<g filter="url(#tb)">
<rect x="157.40" y="1272.30" width="45.10" height="15.20" fill="#000"/>
<text class="b" x="218.75" y="1289.8" font-size="29" letter-spacing="1.261">Control</text>
<rect x="394.30" y="1272.50" width="45.70" height="15.50" fill="#000"/>
<rect x="398.60" y="1276.80" width="37.10" height="6.90" fill="#a2a2a7"/>
<text class="b" x="458" y="1288" font-size="29" letter-spacing="0.788">200 μM</text>
<rect x="158.60" y="1324.30" width="45.90" height="15.40" fill="#000"/>
<rect x="162.90" y="1328.60" width="37.30" height="6.80" fill="#656565"/>
<text class="b" x="224.4" y="1342.4" font-size="29" letter-spacing="0.788">250 μM</text>
<rect x="394.30" y="1328.00" width="45.70" height="16.00" fill="#000"/>
<rect x="398.60" y="1332.30" width="37.10" height="7.40" fill="#d5d5d5"/>
<text class="b" x="458" y="1345.8" font-size="29" letter-spacing="0.788">300 μM</text>
<rect x="107.35" y="1285.25" width="3.50" height="427.80" fill="#000"/>
<rect x="101.30" y="1709.55" width="743.70" height="3.50" fill="#000"/>
<rect x="101.30" y="1709.55" width="7.80" height="3.50" fill="#000"/>
<text class="b" x="95.89999999999999" y="1721.9" font-size="29.5" text-anchor="end">0</text>
<rect x="101.30" y="1568.15" width="7.80" height="3.50" fill="#000"/>
<text class="b" x="95.89999999999999" y="1580.5" font-size="29.5" text-anchor="end">2</text>
<rect x="101.30" y="1426.75" width="7.80" height="3.50" fill="#000"/>
<text class="b" x="95.89999999999999" y="1439.1" font-size="29.5" text-anchor="end">4</text>
<rect x="101.30" y="1285.35" width="7.80" height="3.50" fill="#000"/>
<text class="b" x="95.89999999999999" y="1297.7" font-size="29.5" text-anchor="end">6</text>
<text class="b" font-size="28" text-anchor="middle" letter-spacing="-0.055" transform="translate(28.7 1500.18) rotate(-90)">Relative mRNA expression level</text>
<text class="b" font-size="27" text-anchor="middle" letter-spacing="-0.13" transform="translate(59.3 1499.77) rotate(-90)">(Fold of control)</text>
<rect x="122.40" y="1640.60" width="26.80" height="70.70" fill="#000"/>
<line x1="166.20" y1="1574.80" x2="166.20" y2="1600.20" stroke="#000" stroke-width="2"/>
<line x1="159.45" y1="1574.80" x2="172.95" y2="1574.80" stroke="#000" stroke-width="2"/>
<rect x="152.80" y="1599.20" width="26.80" height="112.10" fill="#000"/>
<rect x="156.60" y="1603.00" width="19.20" height="108.30" fill="#a2a2a7"/>
<text class="b" x="158.15" y="1569.4" font-size="25" text-anchor="middle" fill="#262626">*</text>
<text class="b" x="175.45" y="1569.4" font-size="25" text-anchor="middle" fill="#262626">*</text>
<line x1="196.60" y1="1576.80" x2="196.60" y2="1595.70" stroke="#000" stroke-width="2"/>
<line x1="189.85" y1="1576.80" x2="203.35" y2="1576.80" stroke="#000" stroke-width="2"/>
<rect x="183.20" y="1594.70" width="26.80" height="116.60" fill="#000"/>
<rect x="187.00" y="1598.50" width="19.20" height="112.80" fill="#656565"/>
<text class="b" x="188.55" y="1575.1" font-size="25" text-anchor="middle" fill="#262626">*</text>
<text class="b" x="205.85" y="1575.1" font-size="25" text-anchor="middle" fill="#262626">*</text>
<line x1="227.00" y1="1504.30" x2="227.00" y2="1523.80" stroke="#000" stroke-width="2"/>
<line x1="220.25" y1="1504.30" x2="233.75" y2="1504.30" stroke="#000" stroke-width="2"/>
<rect x="213.60" y="1522.80" width="26.80" height="188.50" fill="#000"/>
<rect x="217.40" y="1526.60" width="19.20" height="184.70" fill="#d5d5d5"/>
<text class="b" x="218.95" y="1501.1" font-size="25" text-anchor="middle" fill="#262626">*</text>
<text class="b" x="236.25" y="1501.1" font-size="25" text-anchor="middle" fill="#262626">*</text>
<rect x="179.80" y="1711.30" width="3.60" height="8.00" fill="#000"/>
<text class="b" x="180.8" y="1749" font-size="29" text-anchor="middle">Bax</text>
<rect x="270.00" y="1640.60" width="26.80" height="70.70" fill="#000"/>
<line x1="313.80" y1="1675.30" x2="313.80" y2="1682.90" stroke="#000" stroke-width="2"/>
<line x1="307.05" y1="1675.30" x2="320.55" y2="1675.30" stroke="#000" stroke-width="2"/>
<rect x="300.40" y="1681.90" width="26.80" height="29.40" fill="#000"/>
<rect x="304.20" y="1685.70" width="19.20" height="25.60" fill="#a2a2a7"/>
<text class="b" x="305.75" y="1675.1" font-size="25" text-anchor="middle" fill="#262626">*</text>
<text class="b" x="323.05" y="1675.1" font-size="25" text-anchor="middle" fill="#262626">*</text>
<line x1="344.20" y1="1690.40" x2="344.20" y2="1694.20" stroke="#000" stroke-width="2"/>
<line x1="337.45" y1="1690.40" x2="350.95" y2="1690.40" stroke="#000" stroke-width="2"/>
<rect x="330.80" y="1693.20" width="26.80" height="18.10" fill="#000"/>
<rect x="334.60" y="1697.00" width="19.20" height="14.30" fill="#656565"/>
<text class="b" x="336.15" y="1684.1" font-size="25" text-anchor="middle" fill="#262626">*</text>
<text class="b" x="353.45" y="1684.1" font-size="25" text-anchor="middle" fill="#262626">*</text>
<line x1="374.60" y1="1688.40" x2="374.60" y2="1694.20" stroke="#000" stroke-width="2"/>
<line x1="367.85" y1="1688.40" x2="381.35" y2="1688.40" stroke="#000" stroke-width="2"/>
<rect x="361.20" y="1693.20" width="26.80" height="18.10" fill="#000"/>
<rect x="365.00" y="1697.00" width="19.20" height="14.30" fill="#d5d5d5"/>
<text class="b" x="366.55" y="1688.1" font-size="25" text-anchor="middle" fill="#262626">*</text>
<text class="b" x="383.85" y="1688.1" font-size="25" text-anchor="middle" fill="#262626">*</text>
<rect x="327.40" y="1711.30" width="3.60" height="8.00" fill="#000"/>
<text class="b" x="328.4" y="1749" font-size="29" text-anchor="middle">Bcl-2</text>
<rect x="417.10" y="1640.60" width="26.80" height="70.70" fill="#000"/>
<line x1="460.90" y1="1628.58" x2="460.90" y2="1635.94" stroke="#000" stroke-width="2"/>
<line x1="454.15" y1="1628.58" x2="467.65" y2="1628.58" stroke="#000" stroke-width="2"/>
<rect x="447.50" y="1634.94" width="26.80" height="76.36" fill="#000"/>
<rect x="451.30" y="1638.74" width="19.20" height="72.56" fill="#a2a2a7"/>
<line x1="491.30" y1="1621.51" x2="491.30" y2="1628.87" stroke="#000" stroke-width="2"/>
<line x1="484.55" y1="1621.51" x2="498.05" y2="1621.51" stroke="#000" stroke-width="2"/>
<rect x="477.90" y="1627.87" width="26.80" height="83.43" fill="#000"/>
<rect x="481.70" y="1631.67" width="19.20" height="79.63" fill="#656565"/>
<text class="b" x="491.9" y="1622.0" font-size="25" text-anchor="middle" fill="#262626">*</text>
<line x1="521.70" y1="1594.64" x2="521.70" y2="1606.25" stroke="#000" stroke-width="2"/>
<line x1="514.95" y1="1594.64" x2="528.45" y2="1594.64" stroke="#000" stroke-width="2"/>
<rect x="508.30" y="1605.25" width="26.80" height="106.05" fill="#000"/>
<rect x="512.10" y="1609.05" width="19.20" height="102.25" fill="#d5d5d5"/>
<text class="b" x="513.65" y="1595.1" font-size="25" text-anchor="middle" fill="#262626">*</text>
<text class="b" x="530.95" y="1595.1" font-size="25" text-anchor="middle" fill="#262626">*</text>
<rect x="474.50" y="1711.30" width="3.60" height="8.00" fill="#000"/>
<text class="b" x="475.5" y="1749" font-size="29" text-anchor="middle">Caspase-3</text>
<rect x="564.70" y="1640.60" width="26.80" height="70.70" fill="#000"/>
<line x1="608.50" y1="1547.28" x2="608.50" y2="1568.78" stroke="#000" stroke-width="2"/>
<line x1="601.75" y1="1547.28" x2="615.25" y2="1547.28" stroke="#000" stroke-width="2"/>
<rect x="595.10" y="1567.78" width="26.80" height="143.52" fill="#000"/>
<rect x="598.90" y="1571.58" width="19.20" height="139.72" fill="#a2a2a7"/>
<text class="b" x="600.45" y="1545.6" font-size="25" text-anchor="middle" fill="#262626">*</text>
<text class="b" x="617.75" y="1545.6" font-size="25" text-anchor="middle" fill="#262626">*</text>
<line x1="638.90" y1="1477.99" x2="638.90" y2="1507.27" stroke="#000" stroke-width="2"/>
<line x1="632.15" y1="1477.99" x2="645.65" y2="1477.99" stroke="#000" stroke-width="2"/>
<rect x="625.50" y="1506.27" width="26.80" height="205.03" fill="#000"/>
<rect x="629.30" y="1510.07" width="19.20" height="201.23" fill="#656565"/>
<text class="b" x="630.85" y="1476.4" font-size="25" text-anchor="middle" fill="#262626">*</text>
<text class="b" x="648.15" y="1476.4" font-size="25" text-anchor="middle" fill="#262626">*</text>
<line x1="669.30" y1="1350.73" x2="669.30" y2="1382.13" stroke="#000" stroke-width="2"/>
<line x1="662.55" y1="1350.73" x2="676.05" y2="1350.73" stroke="#000" stroke-width="2"/>
<rect x="655.90" y="1381.13" width="26.80" height="330.17" fill="#000"/>
<rect x="659.70" y="1384.93" width="19.20" height="326.37" fill="#d5d5d5"/>
<text class="b" x="661.25" y="1346.3" font-size="25" text-anchor="middle" fill="#262626">*</text>
<text class="b" x="678.55" y="1346.3" font-size="25" text-anchor="middle" fill="#262626">*</text>
<rect x="622.10" y="1711.30" width="3.60" height="8.00" fill="#000"/>
<text class="b" x="623.1000000000001" y="1749" font-size="29" text-anchor="middle">Caspase-9</text>
<rect x="712.10" y="1640.60" width="26.80" height="70.70" fill="#000"/>
<line x1="755.90" y1="1564.95" x2="755.90" y2="1594.23" stroke="#000" stroke-width="2"/>
<line x1="749.15" y1="1564.95" x2="762.65" y2="1564.95" stroke="#000" stroke-width="2"/>
<rect x="742.50" y="1593.23" width="26.80" height="118.07" fill="#000"/>
<rect x="746.30" y="1597.03" width="19.20" height="114.27" fill="#a2a2a7"/>
<text class="b" x="756.5" y="1563.3" font-size="25" text-anchor="middle" fill="#262626">*</text>
<line x1="786.30" y1="1571.31" x2="786.30" y2="1600.59" stroke="#000" stroke-width="2"/>
<line x1="779.55" y1="1571.31" x2="793.05" y2="1571.31" stroke="#000" stroke-width="2"/>
<rect x="772.90" y="1599.59" width="26.80" height="111.71" fill="#000"/>
<rect x="776.70" y="1603.39" width="19.20" height="107.91" fill="#656565"/>
<text class="b" x="778.25" y="1569.0" font-size="25" text-anchor="middle" fill="#262626">*</text>
<text class="b" x="795.55" y="1569.0" font-size="25" text-anchor="middle" fill="#262626">*</text>
<line x1="816.70" y1="1463.85" x2="816.70" y2="1498.79" stroke="#000" stroke-width="2"/>
<line x1="809.95" y1="1463.85" x2="823.45" y2="1463.85" stroke="#000" stroke-width="2"/>
<rect x="803.30" y="1497.79" width="26.80" height="213.51" fill="#000"/>
<rect x="807.10" y="1501.59" width="19.20" height="209.71" fill="#d5d5d5"/>
<text class="b" x="808.65" y="1462.9" font-size="25" text-anchor="middle" fill="#262626">*</text>
<text class="b" x="825.95" y="1462.9" font-size="25" text-anchor="middle" fill="#262626">*</text>
<rect x="769.50" y="1711.30" width="3.60" height="8.00" fill="#000"/>
<text class="b" x="770.5000000000001" y="1749" font-size="29" text-anchor="middle">P53</text>
</g>
</svg>
</body>
</html>
